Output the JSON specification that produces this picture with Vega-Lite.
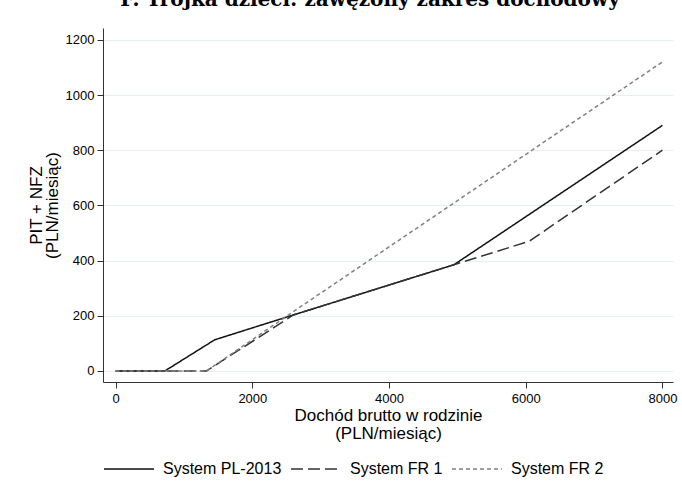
{
  "$schema": "https://vega.github.io/schema/vega-lite/v6.json",
  "width": 570,
  "height": 354,
  "autosize": {"type": "none"},
  "padding": {"left": 103, "top": 28, "right": 9, "bottom": 117},
  "background": "white",
  "title": {
    "text": "F. Trojka dzieci: zawężony zakres dochodowy",
    "font": "DejaVu Serif",
    "fontWeight": "bold",
    "fontSize": 20,
    "color": "#000000",
    "anchor": "middle",
    "dx": -18,
    "offset": 18
  },
  "data": {
    "values": [
      {"x": 0, "y": 0, "s": "System PL-2013"},
      {"x": 720, "y": 0, "s": "System PL-2013"},
      {"x": 1450, "y": 113, "s": "System PL-2013"},
      {"x": 2600, "y": 203, "s": "System PL-2013"},
      {"x": 4950, "y": 385, "s": "System PL-2013"},
      {"x": 8000, "y": 890, "s": "System PL-2013"},
      {"x": 0, "y": 0, "s": "System FR 1"},
      {"x": 1330, "y": 0, "s": "System FR 1"},
      {"x": 2600, "y": 203, "s": "System FR 1"},
      {"x": 4950, "y": 385, "s": "System FR 1"},
      {"x": 6050, "y": 470, "s": "System FR 1"},
      {"x": 8000, "y": 800, "s": "System FR 1"},
      {"x": 0, "y": 0, "s": "System FR 2"},
      {"x": 1330, "y": 0, "s": "System FR 2"},
      {"x": 2600, "y": 215, "s": "System FR 2"},
      {"x": 8000, "y": 1120, "s": "System FR 2"}
    ]
  },
  "mark": {"type": "line", "strokeWidth": 1.5, "clip": true},
  "encoding": {
    "x": {
      "field": "x",
      "type": "quantitative",
      "scale": {"domain": [-185, 8155], "nice": false, "zero": false},
      "axis": {
        "values": [0, 2000, 4000, 6000, 8000],
        "grid": false,
        "format": "d",
        "title": ["Dochód brutto w rodzinie", "(PLN/miesiąc)"],
        "titleFontSize": 17,
        "titleLineHeight": 18,
        "titleFontWeight": "normal",
        "titlePadding": 2,
        "labelFontSize": 13,
        "labelPadding": 4,
        "tickSize": 6
      }
    },
    "y": {
      "field": "y",
      "type": "quantitative",
      "scale": {"domain": [-40, 1243], "nice": false, "zero": false},
      "axis": {
        "values": [0, 200, 400, 600, 800, 1000, 1200],
        "grid": true,
        "format": "d",
        "title": ["PIT + NFZ", "(PLN/miesiąc)"],
        "titleFontSize": 17,
        "titleLineHeight": 16,
        "titleFontWeight": "normal",
        "titlePadding": 4,
        "labelFontSize": 13,
        "labelPadding": 3,
        "tickSize": 6
      }
    },
    "color": {
      "field": "s",
      "type": "nominal",
      "scale": {
        "domain": ["System PL-2013", "System FR 1", "System FR 2"],
        "range": ["#111111", "#333333", "#808080"]
      },
      "legend": {
        "title": null,
        "orient": "bottom",
        "direction": "horizontal",
        "offset": 2,
        "symbolType": "stroke",
        "symbolSize": 2500,
        "symbolStrokeWidth": 1.5,
        "labelFontSize": 16,
        "labelOffset": 8,
        "columnPadding": 6
      }
    },
    "strokeDash": {
      "field": "s",
      "type": "nominal",
      "scale": {
        "domain": ["System PL-2013", "System FR 1", "System FR 2"],
        "range": [[1, 0], [12, 5], [4, 3]]
      },
      "legend": null
    }
  },
  "config": {
    "font": "Liberation Sans",
    "view": {"stroke": null},
    "axis": {
      "domainColor": "#333333",
      "domainWidth": 1,
      "tickColor": "#333333",
      "tickWidth": 1,
      "labelColor": "#000000",
      "titleColor": "#000000",
      "labelFont": "Liberation Sans",
      "titleFont": "Liberation Sans",
      "gridColor": "#e6eff1",
      "gridWidth": 1
    },
    "legend": {
      "labelFont": "Liberation Sans",
      "labelColor": "#000000"
    }
  }
}
